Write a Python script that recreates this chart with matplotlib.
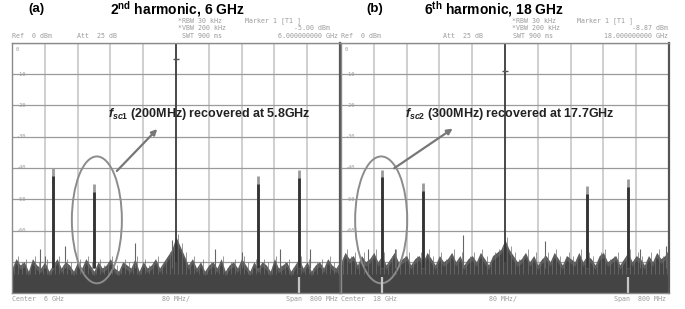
import numpy as np
import matplotlib
matplotlib.use('Agg')
from matplotlib import pyplot as plt
from matplotlib.patches import Ellipse

plt.rcParams['font.family'] = ['Liberation Sans', 'DejaVu Sans']
plt.rcParams['mathtext.fontset'] = 'custom'
plt.rcParams['mathtext.rm'] = 'Liberation Sans:bold'
plt.rcParams['mathtext.it'] = 'Liberation Sans:bold:italic'
plt.rcParams['mathtext.bf'] = 'Liberation Sans:bold'

# panel (a): 2nd harmonic, centre 6 GHz, span 800 MHz
freq_a = np.arange(5600, 6401, 10)
noise_a = [-72, -69, -71, -70, -73, -69, -71, -72, -70, -73,
           -71, -69, -72, -70, -71, -73, -70, -72, -69, -71,
           -73, -70, -72, -71, -69, -72, -73, -70, -71, -72,
           -69, -73, -70, -72, -71, -69, -72, -70, -68, -66,
           -62, -65, -68, -71, -69, -72, -70, -73, -71, -70,
           -72, -69, -73, -71, -70, -72, -69, -71, -73, -70,
           -72, -70, -71, -73, -69, -72, -71, -70, -73, -71,
           -69, -72, -70, -73, -71, -70, -72, -69, -71, -72, -70]
peak_f_a = [5700, 5800, 6200, 6300]
peak_db_a = [-40.0, -45.2, -42.6, -40.6]
spur_f_a = [5668, 5680, 5729, 5900, 5990, 6095, 6160, 6254, 6327]
spur_db_a = [-66, -68, -65, -64, -63, -66, -67, -66, -66]
carrier_a = 6000
marker_a = -5.0
bar_f_a = [6300]

# panel (b): 6th harmonic, centre 18 GHz, span 800 MHz
freq_b = np.arange(17600, 18401, 10)
noise_b = [-70, -67, -69, -68, -71, -68, -70, -69, -67, -70,
           -68, -71, -69, -67, -70, -69, -68, -71, -69, -68,
           -70, -67, -69, -71, -68, -70, -69, -67, -70, -68,
           -71, -69, -68, -70, -67, -69, -71, -68, -67, -66,
           -63, -66, -68, -70, -69, -67, -70, -68, -71, -69,
           -68, -70, -67, -69, -71, -68, -69, -70, -67, -70,
           -68, -69, -71, -68, -67, -70, -69, -68, -71, -69,
           -67, -70, -68, -69, -71, -68, -70, -67, -69, -68, -66]
peak_f_b = [17700, 17800, 18200, 18300]
peak_db_b = [-40.5, -44.8, -45.8, -43.5]
spur_f_b = [17666, 17732, 17898, 18098, 18329, 18392]
spur_db_b = [-66, -66, -61.5, -63.5, -66, -65]
carrier_b = 18000
marker_b = -8.87
bar_f_b = [17700, 18300]

W, H = 685, 309
fig = plt.figure(figsize=(W / 100, H / 100), dpi=100)
fig.patch.set_facecolor('white')


def fx(x):
    return x / W


def fy(y):
    return 1 - y / H


def draw_panel(left, freq, noise, pk_f, pk_db, sp_f, sp_db, carrier, marker, bars):
    ax = fig.add_axes([fx(left), fy(293), 328 / W, 250 / H])
    f0 = freq[0]
    ax.set_xlim(f0, f0 + 800)
    ax.set_ylim(-80, 0)
    ax.set_xticks(np.arange(f0, f0 + 801, 80))
    ax.set_yticks(np.arange(-80, 1, 10))
    ax.grid(axis='x', color='#cfcfcf', lw=1.4)
    ax.grid(axis='y', color='#9a9a9a', lw=0.9)
    ax.tick_params(length=0, labelbottom=False, labelleft=False)
    for s in ax.spines.values():
        s.set_color('#8a8a8a')
        s.set_linewidth(1)
    ax.spines['right'].set_color('#555555')
    ax.spines['right'].set_linewidth(1.6)
    ax.set_axisbelow(True)

    # noise floor
    nz = np.array(noise)
    ax.fill_between(freq, -80, nz, color='#5c5c5c', lw=0)
    ax.fill_between(freq, -80, nz - 1.5, color='#444444', lw=0)
    ax.vlines(freq + 5, -74, nz + 1, color='#707070', lw=0.5)
    ax.vlines(sp_f, -72, sp_db, color='#666666', lw=0.8)

    # tones
    ax.vlines(pk_f, -72, pk_db, color='#9a9a9a', lw=2.0)
    ax.vlines(pk_f, -72, np.array(pk_db) - 2.5, color='#333333', lw=2.0)
    ax.vlines([carrier], -70, 0, color='#333333', lw=1.2)
    ax.plot([carrier], [marker], marker='_', ms=4, color='#555555', mew=1)
    ax.vlines(bars, -80, -75, color='#c4c4c4', lw=1.6)

    # level labels inside the grid
    for lv in range(-10, -70, -10):
        ax.text(0.012, lv, str(lv), transform=ax.get_yaxis_transform(),
                fontsize=3.8, color='#999999', va='center', family='DejaVu Sans Mono')
    ax.text(0.012, -2, '0', transform=ax.get_yaxis_transform(),
            fontsize=3.8, color='#999999', va='center', family='DejaVu Sans Mono')
    return ax


ax_a = draw_panel(12, freq_a, noise_a, peak_f_a, peak_db_a, spur_f_a, spur_db_a,
                  carrier_a, marker_a, bar_f_a)
ax_b = draw_panel(341, freq_b, noise_b, peak_f_b, peak_db_b, spur_f_b, spur_db_b,
                  carrier_b, marker_b, bar_f_b)

# ellipses and arrows
ax_a.add_patch(Ellipse((5807, -56.6), 122, 40.6, fill=False, ec='#8c8c8c', lw=1.4))
ax_a.annotate('', xy=(5959, -26.9), xytext=(5851, -41.6),
              arrowprops=dict(arrowstyle='-|>', color='#777777', lw=1.6, mutation_scale=8))
ax_a.text(5834, -22.8, r'$f_{sc1}$ (200MHz) recovered at 5.8GHz', fontsize=9,
          fontweight='bold', color='#222222', va='center', ha='left')

ax_b.add_patch(Ellipse((17698, -56.6), 127, 40.6, fill=False, ec='#8c8c8c', lw=1.4))
ax_b.annotate('', xy=(17878, -26.9), xytext=(17724, -40.6),
              arrowprops=dict(arrowstyle='-|>', color='#777777', lw=1.6, mutation_scale=8))
ax_b.text(17756, -22.8, r'$f_{sc2}$ (300MHz) recovered at 17.7GHz', fontsize=9,
          fontweight='bold', color='#222222', va='center', ha='left')

# titles
fig.text(fx(36), fy(9), '(a)', fontsize=9.5, fontweight='bold', ha='center', va='center')
fig.text(fx(177), fy(9.5), r'2$^{\mathbf{nd}}$ harmonic, 6 GHz', fontsize=10,
         fontweight='bold', ha='center', va='center')
fig.text(fx(375), fy(9), '(b)', fontsize=9.5, fontweight='bold', ha='center', va='center')
fig.text(fx(494), fy(9.5), r'6$^{\mathbf{th}}$ harmonic, 18 GHz', fontsize=10,
         fontweight='bold', ha='center', va='center')

# instrument header / footer text
mono = dict(fontsize=4.8, color='#9a9a9a', family='DejaVu Sans Mono', va='center')
header = [
    (12, 36, 'Ref  0 dBm', 'left'), (77, 36, 'Att  25 dB', 'left'),
    (178, 21, '*RBW 30 kHz', 'left'), (178, 28.5, '*VBW 200 kHz', 'left'),
    (182, 36, 'SWT 900 ms', 'left'), (245, 21, 'Marker 1 [T1 ]', 'left'),
    (330, 28.5, '-5.00 dBm', 'right'), (338, 36, '6.000000000 GHz', 'right'),
    (341, 36, 'Ref  0 dBm', 'left'), (443, 36, 'Att  25 dB', 'left'),
    (512, 21, '*RBW 30 kHz', 'left'), (512, 28.5, '*VBW 200 kHz', 'left'),
    (513, 36, 'SWT 900 ms', 'left'), (577, 21, 'Marker 1 [T1 ]', 'left'),
    (668, 28.5, '-8.87 dBm', 'right'), (668, 36, '18.000000000 GHz', 'right'),
    (12, 299, 'Center  6 GHz', 'left'), (176, 299, '80 MHz/', 'center'),
    (338, 299, 'Span  800 MHz', 'right'),
    (341, 299, 'Center  18 GHz', 'left'), (503, 299, '80 MHz/', 'center'),
    (666, 299, 'Span  800 MHz', 'right'),
]
for x, y, s, ha in header:
    fig.text(fx(x), fy(y), s, ha=ha, **mono)

plt.savefig('out.png', dpi=100)
